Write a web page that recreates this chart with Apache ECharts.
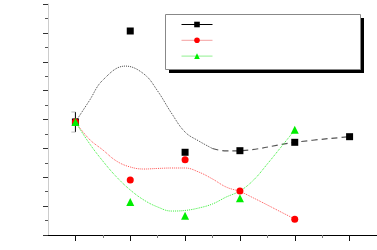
<!DOCTYPE html>
<html><head><meta charset="utf-8">
<script src="https://cdn.jsdelivr.net/npm/echarts@6/dist/echarts.min.js"></script>
<style>html,body{margin:0;padding:0;background:#fff}#c{width:377px;height:250px}</style>
</head><body><div id="c"></div>
<script>
// measured points
const xPos = [1, 2, 3, 4, 5, 6];
const blackPts = [7.83, 14.13, 5.73, 5.84, 6.42, 6.81];
const redPts = [7.83, 3.81, 5.21, 3.05, 1.09];
const greenPts = [7.83, 2.29, 1.34, 2.54, 7.29];
// fitted curves
const fitX = [1, 1.25, 1.5, 1.75, 2, 2.25, 2.5, 2.75, 3, 3.25, 3.5, 3.75, 4, 4.25, 4.5, 4.75, 5];
const blackFitAX = [1, 1.25, 1.5, 1.91, 2.25, 2.5, 2.75, 3, 3.25, 3.5];
const blackFitA = [7.83, 9.28, 10.73, 11.70, 11.15, 9.97, 8.45, 7.13, 6.51, 5.99];
const blackFitBX = [3.5, 3.75, 4, 5, 6];
const blackFitB = [5.99, 5.82, 5.84, 6.42, 6.81];
const redFit = [7.83, 6.65, 5.89, 5.12, 4.71, 4.57, 4.61, 4.64, 4.64, 4.36, 3.88, 3.32, 3.01, 2.56, 2.08, 1.59, 1.11];
const greenFit = [7.83, 6.37, 5.12, 4.02, 3.12, 2.42, 1.94, 1.66, 1.70, 1.87, 2.15, 2.63, 3.05, 3.81, 4.92, 6.09, 7.27];
// error bar on first point
const errBar = [[1, 7.13, 8.52]];
// ticks
const xMajorTicks = [1, 2, 3, 4, 5, 6];
const xMinorTicks = [1.5, 2.5, 3.5, 4.5, 5.5];
const names = ['A', 'B', 'C'];

const pair = (xs, ys) => ys.map((v, i) => [xs[i], v]);

const chart = echarts.init(document.getElementById('c'), null, {renderer: 'canvas'});
chart.setOption({
  animation: false,
  grid: {left: 48, right: 0, top: 4, bottom: 15},
  xAxis: [
    {type: 'value', min: 0.5, max: 6.5, position: 'bottom',
     axisLine: {show: true, lineStyle: {color: '#000', width: 1}},
     axisTick: {show: true, customValues: xMajorTicks, length: 6, lineStyle: {color: '#111'}},
     axisLabel: {show: false}, splitLine: {show: false}},
    {type: 'value', min: 0.5, max: 6.5, position: 'bottom',
     axisLine: {show: false},
     axisTick: {show: true, customValues: xMinorTicks, length: 3, lineStyle: {color: '#777'}},
     axisLabel: {show: false}, splitLine: {show: false}}
  ],
  yAxis: {type: 'value', min: 0, max: 16, interval: 2,
    axisLine: {show: true, lineStyle: {color: '#ccc'}},
    axisTick: {show: true, length: 5, lineStyle: {color: '#333'}},
    minorTick: {show: true, splitNumber: 2, length: 3, lineStyle: {color: '#555'}},
    axisLabel: {show: false}, splitLine: {show: false}},
  legend: {
    orient: 'vertical', left: 181, top: 21, itemWidth: 31, itemHeight: 7, itemGap: 9.5,
    padding: 0, selectedMode: false, formatter: () => '', textStyle: {fontSize: 6},
    data: [
      {name: names[0], lineStyle: {color: '#000', type: 'solid', width: 1}, itemStyle: {color: '#000'}},
      {name: names[1], lineStyle: {color: '#f4a0a0', type: 'solid', width: 1}, itemStyle: {color: '#ff0000'}},
      {name: names[2], lineStyle: {color: '#90f090', type: 'solid', width: 1}, itemStyle: {color: '#00ee00'}}
    ]
  },
  graphic: [
    {type: 'rect', shape: {x: 169, y: 18, width: 195, height: 55}, style: {fill: '#000'}, z: 0},
    {type: 'rect', shape: {x: 165.5, y: 14.5, width: 195, height: 55}, style: {fill: '#fff', stroke: '#888', lineWidth: 1}, z: 1}
  ],
  series: [
    {name: names[0], type: 'line', smooth: 0.4, symbol: 'rect', symbolSize: 7, showSymbol: false,
     data: pair(blackFitAX, blackFitA), itemStyle: {color: '#000'},
     lineStyle: {color: '#444', width: 1, type: 'dotted'}, z: 3},
    {name: 'A2', type: 'line', smooth: 0.4, showSymbol: false, symbol: 'none',
     data: pair(blackFitBX, blackFitB),
     lineStyle: {color: '#555', width: 1.2, type: [6, 4]}, z: 3},
    {name: names[1], type: 'line', smooth: 0.4, symbol: 'circle', symbolSize: 7, showSymbol: false,
     data: pair(fitX, redFit), itemStyle: {color: '#ff0000'},
     lineStyle: {color: '#ff5050', width: 1, type: 'dotted'}, z: 3},
    {name: names[2], type: 'line', smooth: 0.4, symbol: 'triangle', symbolSize: 7, showSymbol: false,
     data: pair(fitX, greenFit), itemStyle: {color: '#00ee00'},
     lineStyle: {color: '#33ee33', width: 1, type: 'dotted'}, z: 3},
    {name: 'err', type: 'custom', data: errBar, z: 4,
     renderItem: (params, api) => {
       const top = api.coord([api.value(0), api.value(2)]);
       const bot = api.coord([api.value(0), api.value(1)]);
       return {type: 'group', children: [
         {type: 'line', shape: {x1: top[0], y1: top[1], x2: bot[0], y2: bot[1]}, style: {stroke: '#000', lineWidth: 1}},
         {type: 'line', shape: {x1: top[0] - 4, y1: top[1], x2: top[0], y2: top[1]}, style: {stroke: '#bbb', lineWidth: 1}},
         {type: 'line', shape: {x1: bot[0] - 4, y1: bot[1], x2: bot[0], y2: bot[1]}, style: {stroke: '#bbb', lineWidth: 1}}
       ]};
     }},
    {name: 'Apts', type: 'scatter', symbol: 'rect', symbolSize: 7, data: pair(xPos, blackPts), itemStyle: {color: '#000', opacity: 1}, z: 5},
    {name: 'Bpts', type: 'scatter', symbol: 'circle', symbolSize: 7, data: pair(xPos, redPts), itemStyle: {color: '#ff0000', opacity: 1}, z: 6},
    {name: 'Cpts', type: 'scatter', symbol: 'triangle', symbolSize: 8, data: pair(xPos, greenPts), itemStyle: {color: '#00ee00', opacity: 1}, z: 7}
  ]
});
</script>
</body></html>
